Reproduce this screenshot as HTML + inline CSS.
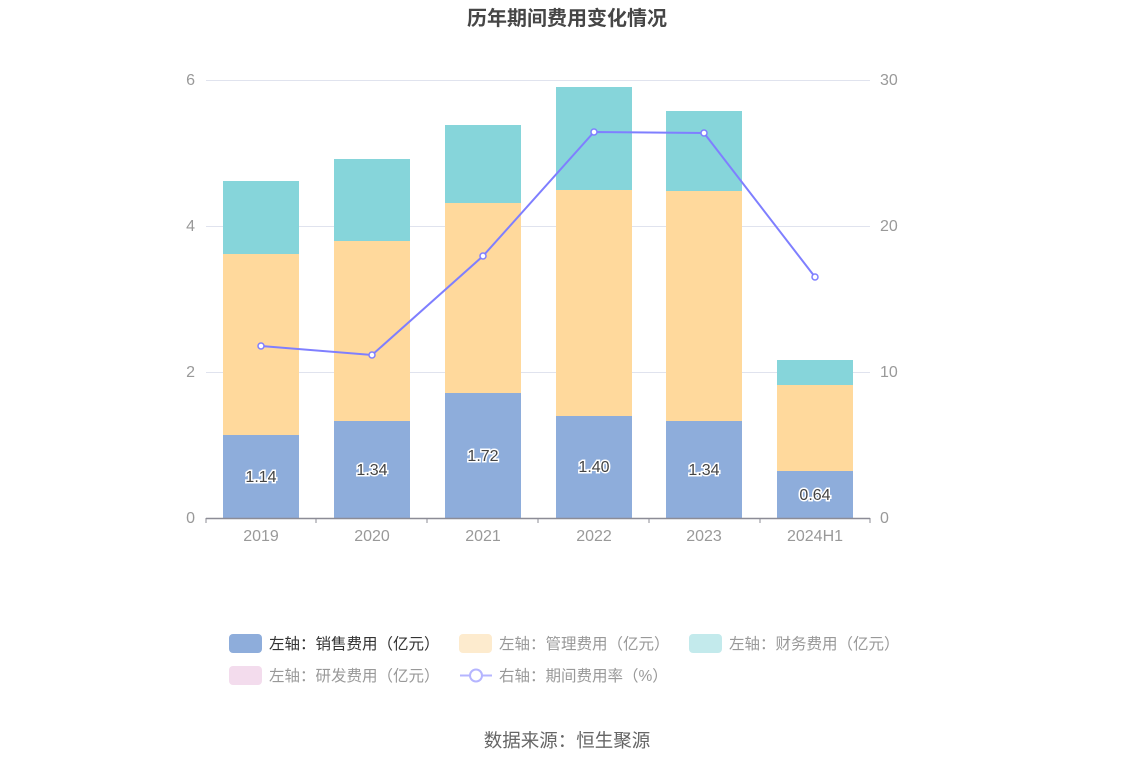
<!DOCTYPE html>
<html><head><meta charset="utf-8"><style>
body{margin:0;background:#fff;}
text{font-family:"Liberation Sans","Noto Sans CJK SC",sans-serif;}
</style></head><body>
<svg width="1134" height="766" xmlns="http://www.w3.org/2000/svg">
<text x="567" y="25" text-anchor="middle" font-size="20" font-weight="bold" fill="#464646">历年期间费用变化情况</text>
<g stroke="#e0e3ee" stroke-width="1">
<line x1="206" y1="80.5" x2="870" y2="80.5"/>
<line x1="206" y1="226.5" x2="870" y2="226.5"/>
<line x1="206" y1="372.5" x2="870" y2="372.5"/>
</g>
<g font-size="16" fill="#999">
<text x="195" y="85" text-anchor="end">6</text>
<text x="195" y="231" text-anchor="end">4</text>
<text x="195" y="377" text-anchor="end">2</text>
<text x="195" y="523" text-anchor="end">0</text>
<text x="880" y="85">30</text>
<text x="880" y="231">20</text>
<text x="880" y="377">10</text>
<text x="880" y="523">0</text>
</g>
<g>
<rect x="223" y="435" width="76" height="83" fill="#8eaddb"/><rect x="223" y="254" width="76" height="181" fill="#ffd99c"/><rect x="223" y="181" width="76" height="73" fill="#86d5da"/>
<rect x="334" y="421" width="76" height="97" fill="#8eaddb"/><rect x="334" y="241" width="76" height="180" fill="#ffd99c"/><rect x="334" y="159" width="76" height="82" fill="#86d5da"/>
<rect x="445" y="393" width="76" height="125" fill="#8eaddb"/><rect x="445" y="203" width="76" height="190" fill="#ffd99c"/><rect x="445" y="125" width="76" height="78" fill="#86d5da"/>
<rect x="556" y="416" width="76" height="102" fill="#8eaddb"/><rect x="556" y="190" width="76" height="226" fill="#ffd99c"/><rect x="556" y="87" width="76" height="103" fill="#86d5da"/>
<rect x="666" y="421" width="76" height="97" fill="#8eaddb"/><rect x="666" y="191" width="76" height="230" fill="#ffd99c"/><rect x="666" y="111" width="76" height="80" fill="#86d5da"/>
<rect x="777" y="471" width="76" height="47" fill="#8eaddb"/><rect x="777" y="385" width="76" height="86" fill="#ffd99c"/><rect x="777" y="360" width="76" height="25" fill="#86d5da"/>
</g>
<line x1="206" y1="518.5" x2="870" y2="518.5" stroke="#8c8c96" stroke-width="1.5"/>
<g stroke="#8c8c96"><line x1="206" y1="518" x2="206" y2="523"/><line x1="316" y1="518" x2="316" y2="523"/><line x1="427" y1="518" x2="427" y2="523"/><line x1="538" y1="518" x2="538" y2="523"/><line x1="649" y1="518" x2="649" y2="523"/><line x1="760" y1="518" x2="760" y2="523"/><line x1="870" y1="518" x2="870" y2="523"/></g>
<g font-size="16" fill="#999" text-anchor="middle">
<text x="261" y="541">2019</text><text x="372" y="541">2020</text><text x="483" y="541">2021</text><text x="594" y="541">2022</text><text x="704" y="541">2023</text><text x="815" y="541">2024H1</text>
</g>
<g font-size="16" fill="#444" text-anchor="middle" stroke="#fff" stroke-width="3" paint-order="stroke">
<text x="261" y="482">1.14</text><text x="372" y="475">1.34</text><text x="483" y="461">1.72</text><text x="594" y="472">1.40</text><text x="704" y="475">1.34</text><text x="815" y="500">0.64</text>
</g>
<polyline points="261,346 372,355 483,256 594,132 704,133 815,277" fill="none" stroke="#7f7fff" stroke-width="2"/>
<g fill="#fff" stroke="#7f7fff" stroke-width="1.5">
<circle cx="261" cy="346" r="3"/><circle cx="372" cy="355" r="3"/><circle cx="483" cy="256" r="3"/><circle cx="594" cy="132" r="3"/><circle cx="704" cy="133" r="3"/><circle cx="815" cy="277" r="3"/>
</g>
<g font-size="15.5">
<rect x="229" y="634" width="33" height="19" rx="4" fill="#8eaddb"/><text x="269" y="649" fill="#333">左轴：销售费用（亿元）</text>
<rect x="459" y="634" width="33" height="19" rx="4" fill="#fdebce"/><text x="499" y="649" fill="#999">左轴：管理费用（亿元）</text>
<rect x="689" y="634" width="33" height="19" rx="4" fill="#c3eaec"/><text x="729" y="649" fill="#999">左轴：财务费用（亿元）</text>
<rect x="229" y="666" width="33" height="19" rx="4" fill="#f3dced"/><text x="269" y="681" fill="#999">左轴：研发费用（亿元）</text>
<line x1="460" y1="675.5" x2="492" y2="675.5" stroke="#b5b5ff" stroke-width="2"/><circle cx="476" cy="675.5" r="6" fill="#fff" stroke="#b5b5ff" stroke-width="2"/>
<text x="499" y="681" fill="#999">右轴：期间费用率（%）</text>
</g>
<text x="567" y="747" text-anchor="middle" font-size="18.5" fill="#666">数据来源：恒生聚源</text>
</svg>
</body></html>
